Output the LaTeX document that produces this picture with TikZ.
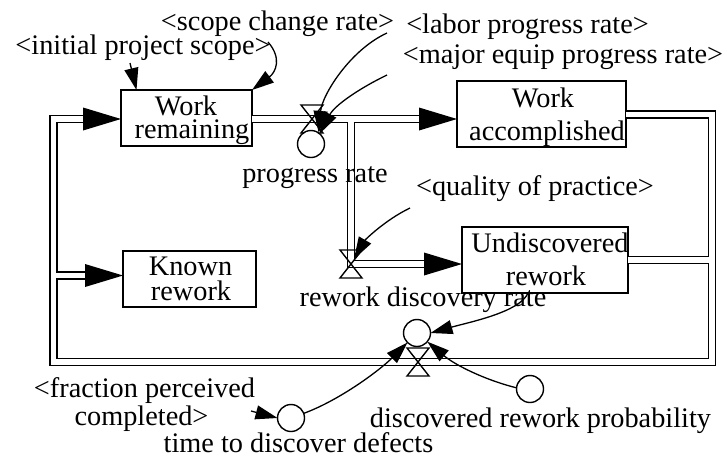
\documentclass[tikz,border=0pt]{standalone}
\usepackage{fontspec}
\setmainfont{Liberation Serif}
\usetikzlibrary{arrows.meta}

% all material pipes, drawn once as a black outline and once as a white core
\newcommand{\pipenet}[1]{%
  \draw[#1] (wa.east |- tr) -- (tr) -- (br) -- (v3) -- (bl) -- (tl) -- ([xshift=-37pt]wr.west |- tl);
  \draw[#1] (wr.east |- v1) -- (v1) -- (j1) -- ([xshift=-37pt]wa.west |- j1);
  \draw[#1] (j1) -- (v2) -- ([xshift=-37pt]ur.west |- v2);
  \draw[#1] (ur.east) -- (ur.east -| tr);
  \draw[#1] (jk) -- ([xshift=-37pt]kr.west |- jk);
}
% large flow arrowhead pointing right, tip at #1
\newcommand{\pipehead}[1]{\fill (#1) -- ++(-38,-11.5) -- ++(0,23) -- cycle;}

\begin{document}
\begin{tikzpicture}[x=1pt,y=-1pt,
  every node/.style={font=\fontsize{28.3pt}{28pt}\selectfont, inner sep=0pt, outer sep=0pt},
  lbl/.style={anchor=base},
  stock/.style={draw, line width=1.4pt},
  aux/.style={draw, circle, fill=white, line width=1.4pt, minimum size=27pt},
  pipeout/.style={line width=8.6pt, line join=miter},
  pipein/.style={line width=5.6pt, white, line join=miter},
  conn/.style={line width=1.3pt, -{Triangle[length=22pt,width=14pt]}},
  valve/.pic={\draw[line width=1.4pt] (-11,-14) -- (11,-14) -- (-11,14) -- (11,14) -- cycle;}
]
\useasboundingbox (0,0) rectangle (727,459);

% stocks
\node[stock, minimum width=131pt, minimum height=56pt] (wr) at (186.5,118) {};
\node[stock, minimum width=169pt, minimum height=66pt] (wa) at (541.5,114) {};
\node[stock, minimum width=166pt, minimum height=66pt] (ur) at (545,260) {};
\node[stock, minimum width=133pt, minimum height=56pt] (kr) at (189.5,279) {};

% pipe corners, junctions and valve centres
\coordinate (tl) at (53.5,119);
\coordinate (bl) at (53.5,362);
\coordinate (br) at (712,362);
\coordinate (tr) at (712,114.5);
\coordinate (v1) at (312,119);
\coordinate (j1) at (351,119);
\coordinate (v2) at (351,264);
\coordinate (v3) at (418,362);
\coordinate (jk) at (53.5,275.5);

\pipenet{pipeout}
\pipenet{pipein}
\pipehead{wr.west |- tl}
\pipehead{wa.west |- j1}
\pipehead{ur.west |- v2}
\pipehead{kr.west |- jk}

% valves
\pic at (v1) {valve};
\pic at (v2) {valve};
\pic at (v3) {valve};

% rate and auxiliary variables
\node[aux] (pr) at (311,144) {};
\node[aux] (rd) at (417,333) {};
\node[aux] (ttd) at (291,418) {};
\node[aux] (drp) at (530,389) {};

% stock texts
\node[lbl] (wr1) at (186,115) {Work};
\node[lbl] (wr2) at (192,138) {remaining};
\node[lbl] (wa1) at (543,107) {Work};
\node[lbl] (wa2) at (547,140) {accomplished};
\node[lbl] (ur1) at (550,252) {Undiscovered};
\node[lbl] (ur2) at (546,285) {rework};
\node[lbl] (kr1) at (190.5,275) {Known};
\node[lbl] (kr2) at (191,300) {rework};

% variable names
\node[lbl] (ips) at (143,54) {<initial project scope>};
\node[lbl] (scr) at (277.5,30) {<scope change rate>};
\node[lbl] (lpr) at (527.5,33) {<labor progress rate>};
\node[lbl] (mep) at (563,63) {<major equip progress rate>};
\node[lbl] (prl) at (315,182) {progress rate};
\node[lbl] (qop) at (535,195) {<quality of practice>};
\node[lbl] (rdl) at (423,306) {rework discovery rate};
\node[lbl] (fpc1) at (144.5,397) {<fraction perceived};
\node[lbl] (fpc2) at (141.5,425) {completed>};
\node[lbl] (ttdl) at (298.5,452) {time to discover defects};
\node[lbl] (drpl) at (540.5,427) {discovered rework probability};

% connector start points beside the shadow-variable names
\coordinate (cips) at (130,63);
\coordinate (cscr) at (268,42);
\coordinate (clpr) at (387,33);
\coordinate (cmep) at (387,75);
\coordinate (cqop) at (410,208);
\coordinate (cfpc) at (251,411);

% information links
\draw[conn] (cips) -- ([xshift=-50pt]wr.north);
\draw[conn] (cscr) .. controls (282,58) and (276,72) .. (wr.north east);
\draw[conn] (clpr) .. controls (350,50) and (322,95) .. (pr.55);
\draw[conn] (cmep) .. controls (360,88) and (335,105) .. (pr.50);
\draw[conn] (cqop) .. controls (385,220) and (365,240) .. ([xshift=3pt,yshift=5pt]v2);
\draw[conn] ([xshift=-17pt]ur.south) .. controls (520,312) and (470,322) .. (rd.east);
\draw[conn] (ttd.20) .. controls (340,400) and (380,370) .. (rd.-135);
\draw[conn] (drp.175) .. controls (485,380) and (455,365) .. (rd.-40);
\draw[conn] (cfpc) -- (ttd.west);
\end{tikzpicture}
\end{document}
